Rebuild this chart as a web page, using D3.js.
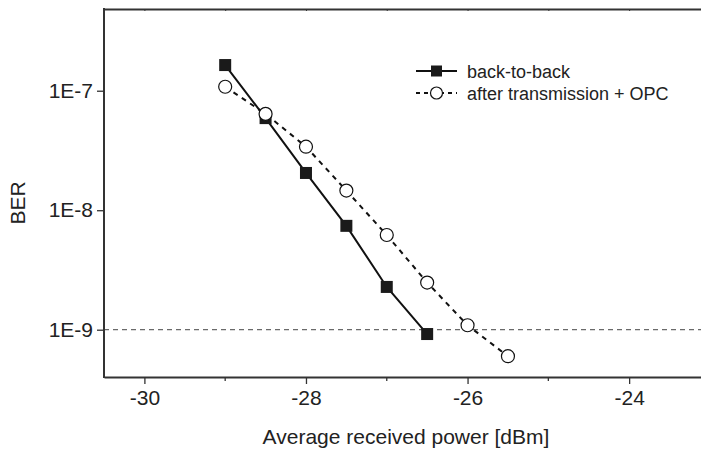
<!DOCTYPE html>
<html>
<head>
<meta charset="utf-8">
<script src="https://cdn.jsdelivr.net/npm/d3@7"></script>
<style>
  body { margin: 0; background: #fff; }
  text { font-family: "Liberation Sans", Arial, sans-serif; fill: #222; }
</style>
</head>
<body>
<div id="container"></div>
<script>
// data
const powerB2B = [-29, -28.5, -28, -27.5, -27, -26.5]
const berB2B = [1.64e-7, 5.9e-8, 2.05e-8, 7.4e-9, 2.28e-9, 9.2e-10]

const powerOPC = [-29, -28.5, -28, -27.5, -27, -26.5, -26, -25.5]
const berOPC = [1.08e-7, 6.4e-8, 3.4e-8, 1.46e-8, 6.2e-9, 2.48e-9, 1.09e-9, 6.0e-10]

const xTicks = [-30, -28, -26, -24]
const xTickLabels = ["-30", "-28", "-26", "-24"]
const xMinorTicks = [-29, -27, -25]
const yTicks = [1e-7, 1e-8, 1e-9]
const yTickLabels = ["1E-7", "1E-8", "1E-9"]
const threshold = 1e-9

const legendLabels = ["back-to-back", "after transmission + OPC"]

const width = 701, height = 452
const margin = { left: 104, top: 9, right: -17, bottom: 75 }

const svg = d3.select('#container').append('svg')
    .attr('width', width).attr('height', height)

const x = d3.scaleLinear().domain([-30.5, -22.9])
    .range([margin.left, width - margin.right])
const y = d3.scaleLog().domain([4.02e-10, 4.83e-7])
    .range([height - margin.bottom, margin.top])

const axisColor = "#333"

// threshold line
svg.append("line")
    .attr("x1", x.range()[0]).attr("x2", width)
    .attr("y1", y(threshold)).attr("y2", y(threshold))
    .attr("stroke", "#444").attr("stroke-width", 1)
    .attr("stroke-dasharray", "5,4")

// bottom axis
const gx = svg.append("g")
    .attr("transform", `translate(0,${y.range()[0]})`)
    .call(d3.axisBottom(x).tickValues(xTicks).tickFormat((d, i) => xTickLabels[i])
        .tickSize(7).tickPadding(6).tickSizeOuter(0))
gx.select(".domain").attr("stroke", axisColor).attr("stroke-width", 2)
gx.selectAll(".tick line").attr("stroke", axisColor).attr("stroke-width", 1.3)
gx.selectAll("text").style("font-size", "21px").attr("fill", "#222")
gx.selectAll(".minor").data(xMinorTicks).enter().append("line")
    .attr("x1", d => x(d)).attr("x2", d => x(d))
    .attr("y1", 0).attr("y2", 4)
    .attr("stroke", axisColor).attr("stroke-width", 1.3)

// top axis
const gt = svg.append("g")
    .attr("transform", `translate(0,${y.range()[1]})`)
    .call(d3.axisTop(x).tickValues(xTicks.concat(xMinorTicks)).tickSize(-2).tickFormat("").tickSizeOuter(0))
gt.select(".domain").attr("stroke", axisColor).attr("stroke-width", 2)
gt.selectAll(".tick line").attr("stroke", axisColor)

// left axis
const gy = svg.append("g")
    .attr("transform", `translate(${x.range()[0]},0)`)
    .call(d3.axisLeft(y).tickValues(yTicks).tickFormat((d, i) => yTickLabels[i])
        .tickSize(7).tickPadding(4).tickSizeOuter(0))
gy.select(".domain").attr("stroke", axisColor).attr("stroke-width", 2)
    .attr("d", `M0,${y.range()[0] + 1}V${y.range()[1] - 1}`)
gy.selectAll(".tick line").attr("stroke", axisColor).attr("stroke-width", 1.3)
gy.selectAll("text").style("font-size", "21px").attr("fill", "#222")

// axis titles
svg.append("text")
    .attr("x", 406).attr("y", 444)
    .attr("text-anchor", "middle")
    .style("font-size", "21px")
    .text("Average received power [dBm]")

svg.append("text")
    .attr("transform", "translate(25,203) rotate(-90)")
    .attr("text-anchor", "middle")
    .style("font-size", "21px")
    .text("BER")

// series
const line = d3.line().x(d => x(d[0])).y(d => y(d[1]))
const b2b = powerB2B.map((p, i) => [p, berB2B[i]])
const opc = powerOPC.map((p, i) => [p, berOPC[i]])

svg.append("path").attr("d", line(b2b))
    .attr("fill", "none").attr("stroke", "#111").attr("stroke-width", 2)
svg.append("path").attr("d", line(opc))
    .attr("fill", "none").attr("stroke", "#111").attr("stroke-width", 2)
    .attr("stroke-dasharray", "5,5")

const sq = 12
svg.selectAll(".sq").data(b2b).enter().append("rect")
    .attr("x", d => x(d[0]) - sq / 2).attr("y", d => y(d[1]) - sq / 2)
    .attr("width", sq).attr("height", sq)
    .attr("fill", "#1a1a1a")

svg.selectAll(".circ").data(opc).enter().append("circle")
    .attr("cx", d => x(d[0])).attr("cy", d => y(d[1]))
    .attr("r", 6.5)
    .attr("fill", "#fff").attr("stroke", "#111").attr("stroke-width", 1.2)

// legend
const lg = svg.append("g").attr("transform", "translate(416,71)")
lg.append("line").attr("x1", 0).attr("x2", 41).attr("y1", 0).attr("y2", 0)
    .attr("stroke", "#111").attr("stroke-width", 2)
lg.append("rect").attr("x", 20.5 - 5.5).attr("y", -5.5).attr("width", 11).attr("height", 11)
    .attr("fill", "#1a1a1a")
lg.append("text").attr("x", 51).attr("y", 6.5).style("font-size", "18px").text(legendLabels[0])

lg.append("line").attr("x1", 0).attr("x2", 41).attr("y1", 22).attr("y2", 22)
    .attr("stroke", "#111").attr("stroke-width", 2).attr("stroke-dasharray", "4,4")
lg.append("circle").attr("cx", 20.5).attr("cy", 22).attr("r", 6)
    .attr("fill", "#fff").attr("stroke", "#111").attr("stroke-width", 1.2)
lg.append("text").attr("x", 51).attr("y", 28.5).style("font-size", "18px").text(legendLabels[1])
</script>
</body>
</html>
